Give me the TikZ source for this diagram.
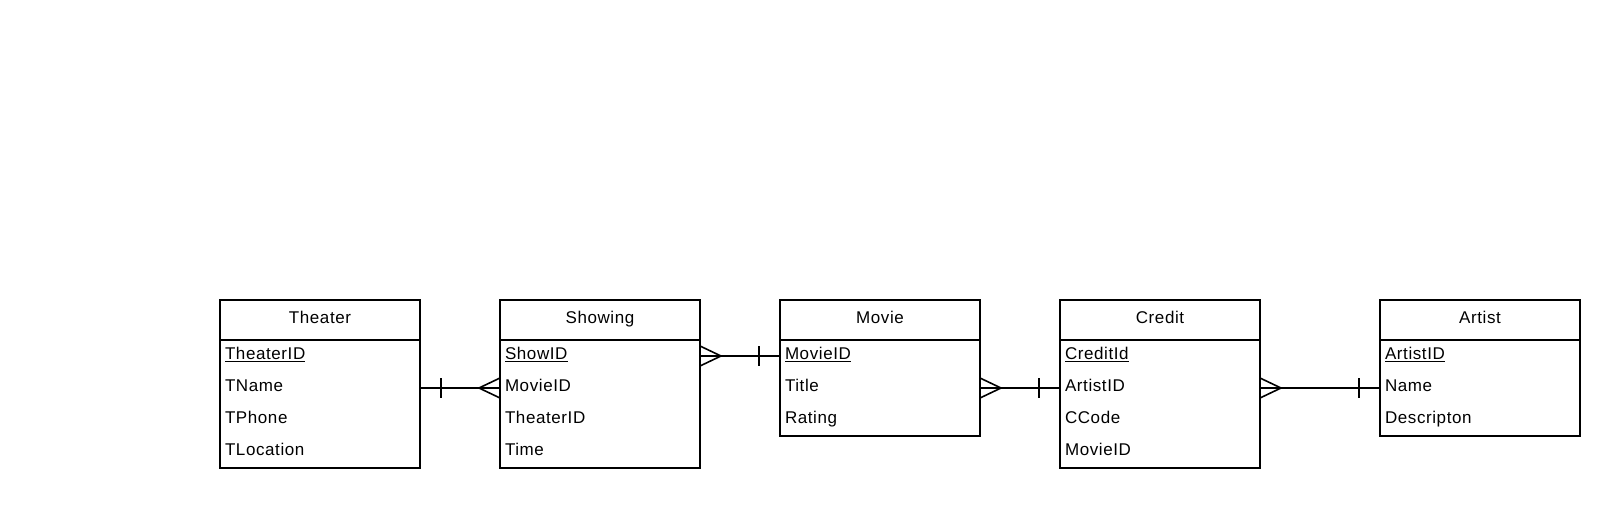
\documentclass[tikz,border=0pt]{standalone}
\usepackage{fontspec}
\setmainfont{Liberation Sans}[LetterSpace=3.5]
\usetikzlibrary{positioning}
\newcommand{\erfont}{\fontsize{17}{20}\selectfont}
% one-bar and crow's-foot ends, #2 = +1 to the right of the anchor, -1 to the left
\newcommand{\erone}[2]{\draw[link] ([xshift=#2*21pt,yshift=10pt]#1) -- ([xshift=#2*21pt,yshift=-10pt]#1);}
\newcommand{\ermany}[2]{\draw[link] ([yshift=10pt]#1) -- ([xshift=#2*21pt]#1) -- ([yshift=-10pt]#1);}
\tikzset{
  entity/.style={draw,line width=1.6pt,minimum width=200pt,minimum height=40pt,
    inner sep=0pt,outer sep=0pt,text height=12pt,text depth=6pt,font=\erfont},
  attr/.style={minimum height=32pt,text width=190pt,inner xsep=5pt,inner ysep=0pt,
    outer sep=0pt,align=left,text height=12pt,text depth=4.8pt,font=\erfont},
  frame/.style={line width=1.6pt},
  link/.style={line width=1.6pt}
}
\begin{document}
\begin{tikzpicture}[x=1pt,y=-1pt]
  \useasboundingbox (0,0) rectangle (1620,508);
  % Theater
  \node[entity] (theater) at (320,320) {Theater};
  \node[attr,below=0pt of theater] (theater-id) {\underline{TheaterID}};
  \node[attr,below=0pt of theater-id] (theater-name) {TName};
  \node[attr,below=0pt of theater-name] (theater-phone) {TPhone};
  \node[attr,below=0pt of theater-phone] (theater-loc) {TLocation};
  \draw[frame] (theater.south west) rectangle (theater-loc.south east);
  % Showing
  \node[entity] (showing) at (600,320) {Showing};
  \node[attr,below=0pt of showing] (showing-id) {\underline{ShowID}};
  \node[attr,below=0pt of showing-id] (showing-movie) {MovieID};
  \node[attr,below=0pt of showing-movie] (showing-theater) {TheaterID};
  \node[attr,below=0pt of showing-theater] (showing-time) {Time};
  \draw[frame] (showing.south west) rectangle (showing-time.south east);
  % Movie
  \node[entity] (movie) at (880,320) {Movie};
  \node[attr,below=0pt of movie] (movie-id) {\underline{MovieID}};
  \node[attr,below=0pt of movie-id] (movie-title) {Title};
  \node[attr,below=0pt of movie-title] (movie-rating) {Rating};
  \draw[frame] (movie.south west) rectangle (movie-rating.south east);
  % Credit
  \node[entity] (credit) at (1160,320) {Credit};
  \node[attr,below=0pt of credit] (credit-id) {\underline{CreditId}};
  \node[attr,below=0pt of credit-id] (credit-artist) {ArtistID};
  \node[attr,below=0pt of credit-artist] (credit-code) {CCode};
  \node[attr,below=0pt of credit-code] (credit-movie) {MovieID};
  \draw[frame] (credit.south west) rectangle (credit-movie.south east);
  % Artist
  \node[entity] (artist) at (1480,320) {Artist};
  \node[attr,below=0pt of artist] (artist-id) {\underline{ArtistID}};
  \node[attr,below=0pt of artist-id] (artist-name) {Name};
  \node[attr,below=0pt of artist-name] (artist-desc) {Descripton};
  \draw[frame] (artist.south west) rectangle (artist-desc.south east);
  % relationships
  \draw[link] (theater-name.east) -- (showing-movie.west);
  \erone{theater-name.east}{1}
  \ermany{showing-movie.west}{-1}
  \draw[link] (showing-id.east) -- (movie-id.west);
  \ermany{showing-id.east}{1}
  \erone{movie-id.west}{-1}
  \draw[link] (movie-title.east) -- (credit-artist.west);
  \ermany{movie-title.east}{1}
  \erone{credit-artist.west}{-1}
  \draw[link] (credit-artist.east) -- (artist-name.west);
  \ermany{credit-artist.east}{1}
  \erone{artist-name.west}{-1}
\end{tikzpicture}
\end{document}
